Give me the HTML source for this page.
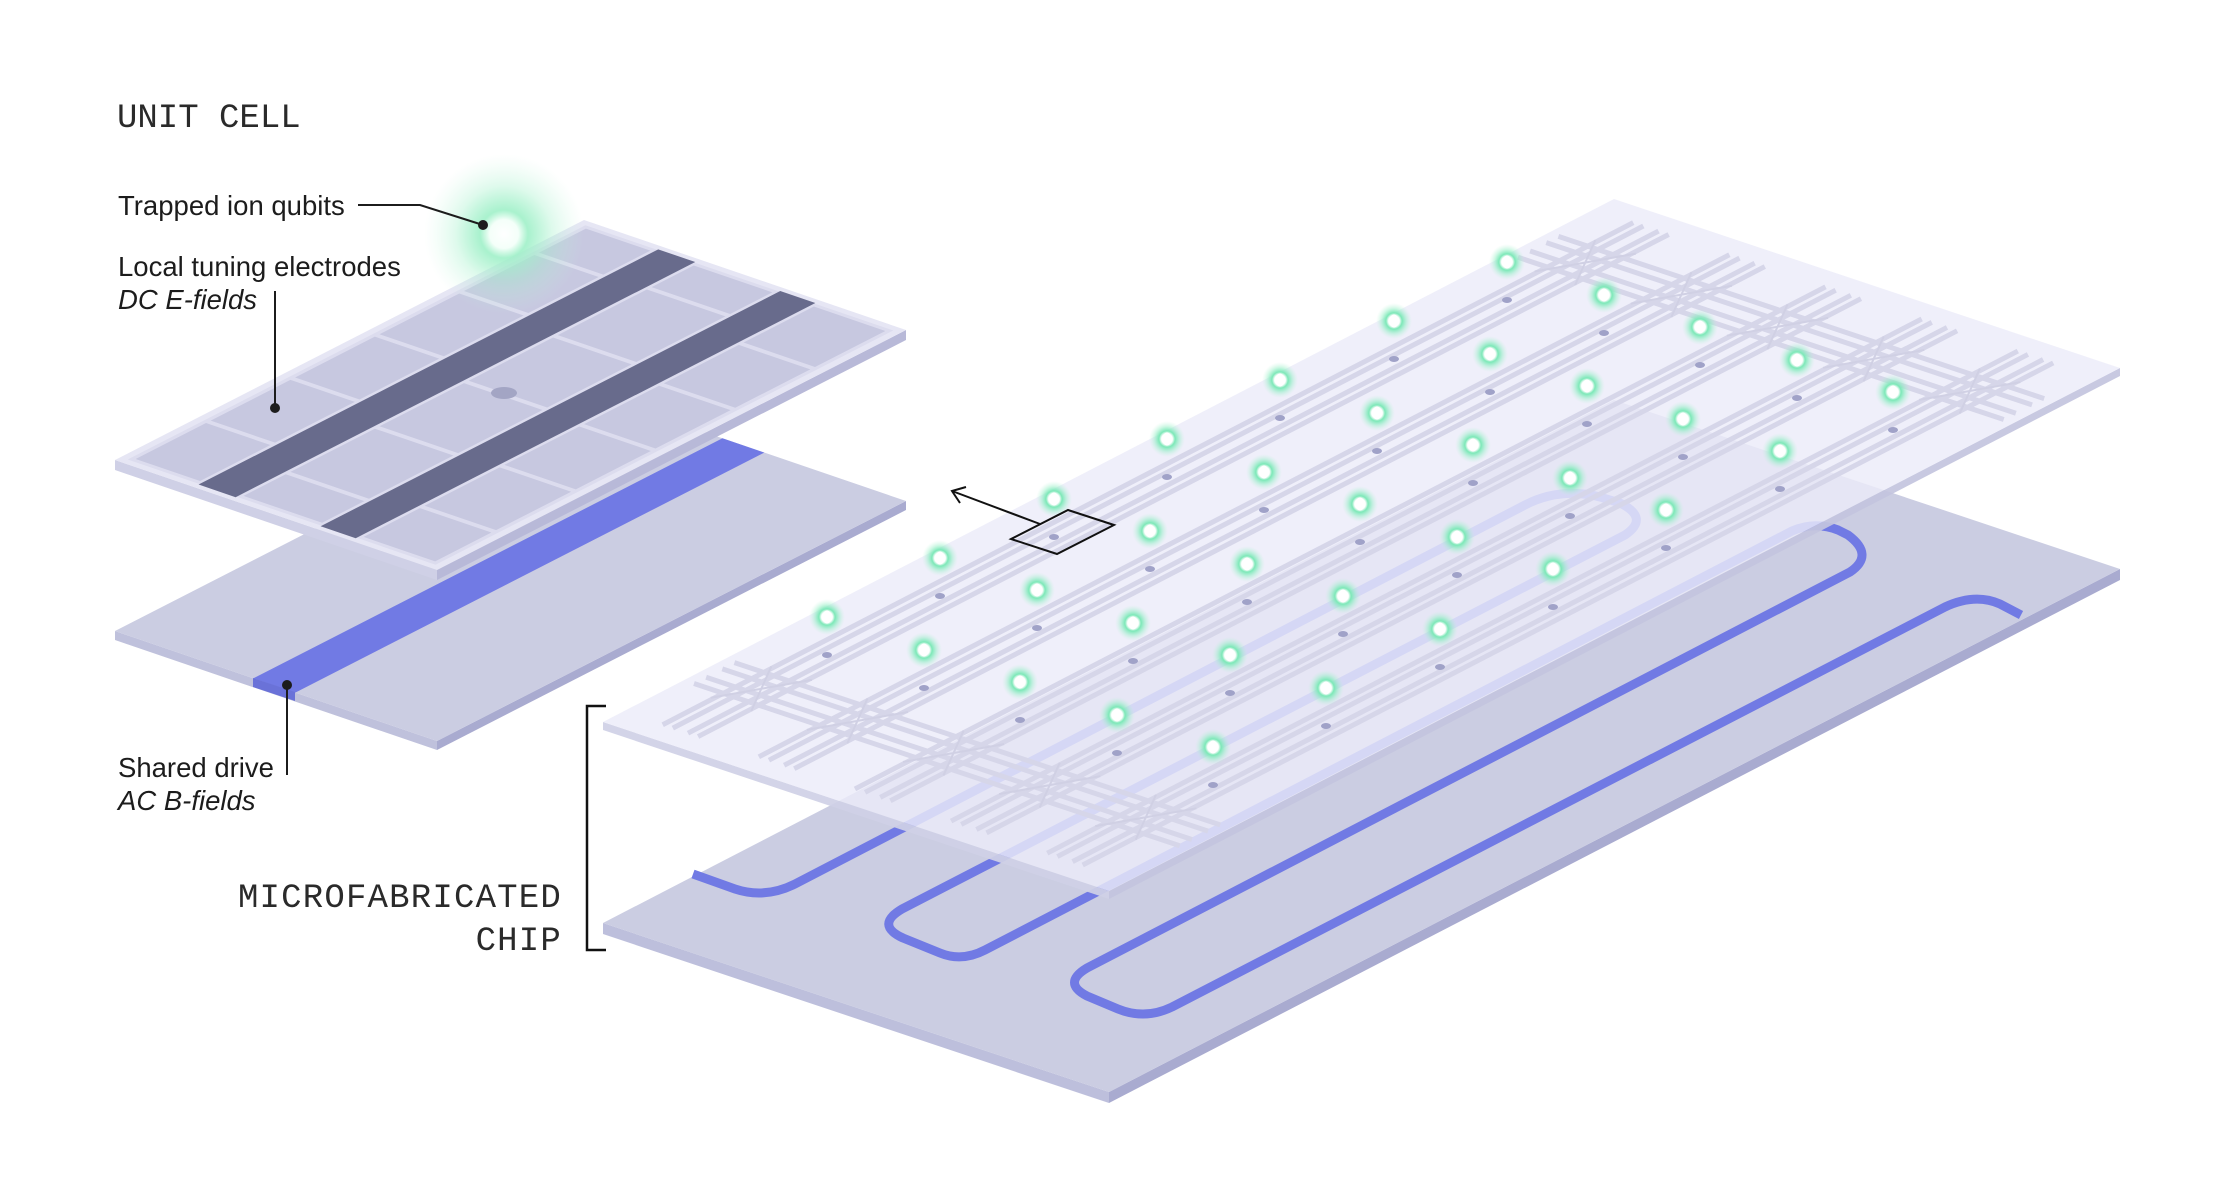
<!DOCTYPE html>
<html><head><meta charset="utf-8"><style>
html,body{margin:0;padding:0;background:#fff;}
svg{display:block;}
.lbl{font-family:"Liberation Sans",sans-serif;font-size:27.5px;fill:#1c1c1c;}
.it{font-style:italic;}
.mono{font-family:"Liberation Mono",monospace;font-size:34px;fill:#2a2a2a;}
</style></head><body>
<svg width="2232" height="1186" viewBox="0 0 2232 1186" xmlns="http://www.w3.org/2000/svg">
<defs>
<radialGradient id="bigglow">
<stop offset="0" stop-color="#ffffff"/>
<stop offset="0.18" stop-color="#f4fff9"/>
<stop offset="0.3" stop-color="#9ff0c8" stop-opacity="0.9"/>
<stop offset="0.6" stop-color="#9ff0c8" stop-opacity="0.35"/>
<stop offset="1" stop-color="#c8f5df" stop-opacity="0"/>
</radialGradient>
<radialGradient id="glow">
<stop offset="0" stop-color="#ffffff"/>
<stop offset="0.3" stop-color="#ffffff"/>
<stop offset="0.45" stop-color="#7de8b8"/>
<stop offset="0.7" stop-color="#8eeec2" stop-opacity="0.45"/>
<stop offset="1" stop-color="#bff3da" stop-opacity="0"/>
</radialGradient>
<g id="ion"><circle r="18" fill="url(#glow)"/><ellipse rx="4.5" ry="6.5" fill="#fff"/></g>
</defs>

<text x="117" y="127" class="mono">UNIT CELL</text>

<!-- unit bottom plate -->
<polygon points="115,631 437,741 437,750 115,640" fill="#bfc1dc"/>
<polygon points="437,741 906,501 906,510 437,750" fill="#a9abd0"/>
<g transform="matrix(0.469,-0.24,0.322,0.11,115,631)">
<rect x="0" y="0" width="1000" height="1000" fill="#cbcde2"/>
<rect x="0" y="430" width="1000" height="130" fill="#717ae4"/>
</g>
<polygon points="253,678 295,692 295,701 253,687" fill="#6a72d8"/>

<!-- unit top plate -->
<polygon points="115,460 437,570 437,580 115,470" fill="#cfd0e6"/>
<polygon points="437,570 906,330 906,340 437,580" fill="#b8b9d8"/>
<g transform="matrix(0.469,-0.24,0.322,0.11,115,460)">
<rect x="0" y="0" width="1000" height="1000" fill="#e6e6f4"/>
<rect x="12" y="22" width="976" height="956" fill="#dcdcee"/>
<g fill="#c7c8e0">
<rect x="20" y="35" width="150" height="200"/><rect x="180" y="35" width="170" height="200"/><rect x="360" y="35" width="170" height="200"/><rect x="540" y="35" width="170" height="200"/><rect x="720" y="35" width="150" height="200"/><rect x="880" y="35" width="100" height="200"/>
<rect x="20" y="370" width="90" height="244"/><rect x="120" y="370" width="180" height="244"/><rect x="310" y="370" width="180" height="244"/><rect x="500" y="370" width="180" height="244"/><rect x="690" y="370" width="190" height="244"/><rect x="890" y="370" width="90" height="244"/>
<rect x="20" y="743" width="120" height="222"/><rect x="150" y="743" width="160" height="222"/><rect x="320" y="743" width="160" height="222"/><rect x="490" y="743" width="160" height="222"/><rect x="660" y="743" width="160" height="222"/><rect x="830" y="743" width="150" height="222"/>
</g>
<rect x="10" y="245" width="980" height="115" fill="#686b8c"/>
<rect x="10" y="624" width="980" height="109" fill="#686b8c"/>
</g>
<ellipse cx="504" cy="393" rx="13" ry="6" fill="#a3a5c4"/>
<circle cx="504" cy="234" r="80" fill="url(#bigglow)"/>

<!-- labels -->
<text x="118" y="215" class="lbl">Trapped ion qubits</text>
<polyline points="358,205 420,205 483,225" fill="none" stroke="#1c1c1c" stroke-width="2"/>
<circle cx="483" cy="225" r="5" fill="#1c1c1c"/>
<text x="118" y="276" class="lbl">Local tuning electrodes</text>
<text x="118" y="309" class="lbl it">DC E-fields</text>
<line x1="275" y1="291" x2="275" y2="408" stroke="#1c1c1c" stroke-width="2"/>
<circle cx="275" cy="408" r="5" fill="#1c1c1c"/>
<text x="118" y="777" class="lbl">Shared drive</text>
<text x="118" y="810" class="lbl it">AC B-fields</text>
<line x1="287" y1="775" x2="287" y2="685" stroke="#1c1c1c" stroke-width="2"/>
<circle cx="287" cy="685" r="5" fill="#1c1c1c"/>

<text x="562" y="907" class="mono" text-anchor="end" letter-spacing="1.2">MICROFABRICATED</text>
<text x="562" y="950" class="mono" text-anchor="end" letter-spacing="1.2">CHIP</text>
<polyline points="606,706 587,706 587,950 606,950" fill="none" stroke="#111" stroke-width="2.5"/>

<!-- main bottom plate -->
<polygon points="603,923 1109,1092 1109,1103 603,934" fill="#bdbfdc"/>
<polygon points="1109,1092 2120,569 2120,580 1109,1103" fill="#a9abd0"/>
<polygon points="603,923 1614,400 2120,569 1109,1092" fill="#cbcde2"/>
<path d="M693,874 L735,889 Q765,899 795,884 L1525,505 Q1560,487 1600,497 L1620,503 Q1650,518 1625,535 L902,909 Q875,925 903,938 L940,953 Q962,962 985,950 L1792,531 Q1815,521 1838,530 L1848,535 Q1875,555 1850,572 L1087,968 Q1062,983 1087,996 L1118,1009 Q1145,1020 1172,1007 L1945,607 Q1975,593 2000,604 L2021,615" fill="none" stroke="#717ae4" stroke-width="9" stroke-linejoin="round"/>

<!-- main top plate -->
<polygon points="603,722 1109,891 1109,899 603,730" fill="#cfd0e6" opacity="0.92"/>
<polygon points="1109,891 2120,368 2120,376 1109,899" fill="#c3c4de" opacity="0.92"/>
<g transform="matrix(1.011,-0.523,0.506,0.169,603,722)">
<rect x="0" y="0" width="1000" height="1000" fill="#ececf9" fill-opacity="0.82"/>
<g stroke="#d6d6e9" stroke-width="5" fill="none">
<path vector-effect="non-scaling-stroke" d="M20,78H980M20,98H980M20,128H980M20,148H980
M20,268H980M20,288H980M20,318H980M20,338H980
M20,458H980M20,478H980M20,508H980M20,528H980
M20,648H980M20,668H980M20,698H980M20,718H980
M20,838H980M20,858H980M20,888H980M20,908H980
M80,20V980M92,20V980M108,20V980M120,20V980
M895,20V980M907,20V980M923,20V980M935,20V980"/>
</g>
<g stroke="#d0d0e4" stroke-width="2" fill="none">
<path vector-effect="non-scaling-stroke" d="M70,73L130,153M130,73L70,153M70,263L130,343M130,263L70,343M70,453L130,533M130,453L70,533M70,643L130,723M130,643L70,723M70,833L130,913M130,833L70,913
M885,73L945,153M945,73L885,153M885,263L945,343M945,263L885,343M885,453L945,533M945,453L885,533M885,643L945,723M945,643L885,723M885,833L945,913M945,833L885,913"/>
</g>
</g>

<g fill="#a0a2c8">
<ellipse cx="827" cy="655" rx="5" ry="3"/><ellipse cx="940" cy="596" rx="5" ry="3"/><ellipse cx="1054" cy="537" rx="5" ry="3"/><ellipse cx="1167" cy="477" rx="5" ry="3"/><ellipse cx="1280" cy="418" rx="5" ry="3"/><ellipse cx="1394" cy="359" rx="5" ry="3"/><ellipse cx="1507" cy="300" rx="5" ry="3"/>
<ellipse cx="924" cy="688" rx="5" ry="3"/><ellipse cx="1037" cy="628" rx="5" ry="3"/><ellipse cx="1150" cy="569" rx="5" ry="3"/><ellipse cx="1264" cy="510" rx="5" ry="3"/><ellipse cx="1377" cy="451" rx="5" ry="3"/><ellipse cx="1490" cy="392" rx="5" ry="3"/><ellipse cx="1604" cy="333" rx="5" ry="3"/>
<ellipse cx="1020" cy="720" rx="5" ry="3"/><ellipse cx="1133" cy="661" rx="5" ry="3"/><ellipse cx="1247" cy="602" rx="5" ry="3"/><ellipse cx="1360" cy="542" rx="5" ry="3"/><ellipse cx="1473" cy="483" rx="5" ry="3"/><ellipse cx="1587" cy="424" rx="5" ry="3"/><ellipse cx="1700" cy="365" rx="5" ry="3"/>
<ellipse cx="1117" cy="753" rx="5" ry="3"/><ellipse cx="1230" cy="693" rx="5" ry="3"/><ellipse cx="1343" cy="634" rx="5" ry="3"/><ellipse cx="1457" cy="575" rx="5" ry="3"/><ellipse cx="1570" cy="516" rx="5" ry="3"/><ellipse cx="1683" cy="457" rx="5" ry="3"/><ellipse cx="1797" cy="398" rx="5" ry="3"/>
<ellipse cx="1213" cy="785" rx="5" ry="3"/><ellipse cx="1326" cy="726" rx="5" ry="3"/><ellipse cx="1440" cy="667" rx="5" ry="3"/><ellipse cx="1553" cy="607" rx="5" ry="3"/><ellipse cx="1666" cy="548" rx="5" ry="3"/><ellipse cx="1780" cy="489" rx="5" ry="3"/><ellipse cx="1893" cy="430" rx="5" ry="3"/>
</g>

<use href="#ion" x="827" y="617"/><use href="#ion" x="940" y="558"/><use href="#ion" x="1054" y="499"/><use href="#ion" x="1167" y="439"/><use href="#ion" x="1280" y="380"/><use href="#ion" x="1394" y="321"/><use href="#ion" x="1507" y="262"/>
<use href="#ion" x="924" y="650"/><use href="#ion" x="1037" y="590"/><use href="#ion" x="1150" y="531"/><use href="#ion" x="1264" y="472"/><use href="#ion" x="1377" y="413"/><use href="#ion" x="1490" y="354"/><use href="#ion" x="1604" y="295"/>
<use href="#ion" x="1020" y="682"/><use href="#ion" x="1133" y="623"/><use href="#ion" x="1247" y="564"/><use href="#ion" x="1360" y="504"/><use href="#ion" x="1473" y="445"/><use href="#ion" x="1587" y="386"/><use href="#ion" x="1700" y="327"/>
<use href="#ion" x="1117" y="715"/><use href="#ion" x="1230" y="655"/><use href="#ion" x="1343" y="596"/><use href="#ion" x="1457" y="537"/><use href="#ion" x="1570" y="478"/><use href="#ion" x="1683" y="419"/><use href="#ion" x="1797" y="360"/>
<use href="#ion" x="1213" y="747"/><use href="#ion" x="1326" y="688"/><use href="#ion" x="1440" y="629"/><use href="#ion" x="1553" y="569"/><use href="#ion" x="1666" y="510"/><use href="#ion" x="1780" y="451"/><use href="#ion" x="1893" y="392"/>

<polygon points="1011,539 1068,510 1114,525 1057,554" fill="none" stroke="#111" stroke-width="2"/>
<line x1="1040" y1="524" x2="952" y2="491" stroke="#111" stroke-width="2"/>
<polyline points="960,503 952,491 966,487" fill="none" stroke="#111" stroke-width="2"/>
</svg>
</body></html>
